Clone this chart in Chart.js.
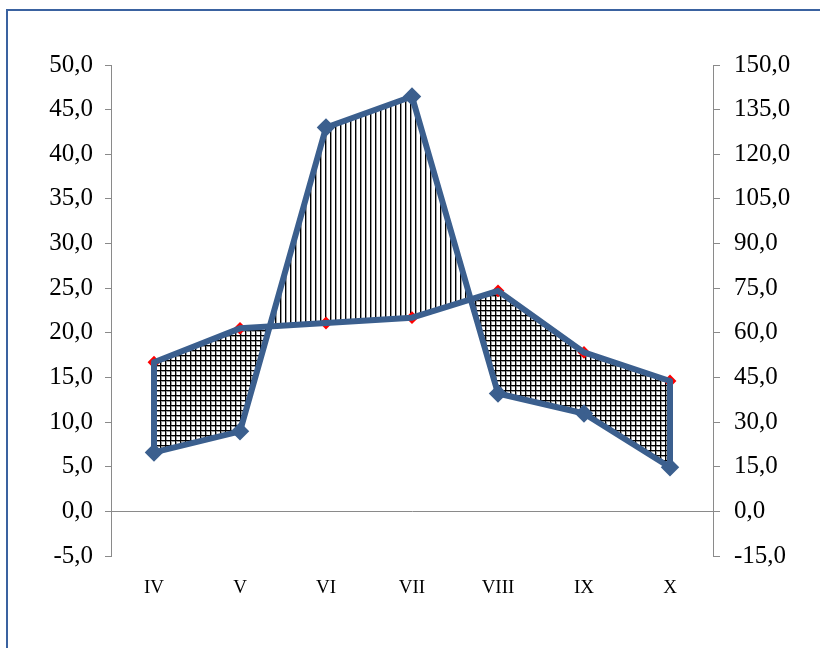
<!DOCTYPE html>
<html>
<head>
<meta charset="utf-8">
<script src="https://cdn.jsdelivr.net/npm/chart.js@4/dist/chart.umd.min.js"></script>
<style>
    html, body { margin: 0; padding: 0; background: #fff; overflow: hidden; }
    #frame {
        position: absolute; left: 6px; top: 9px; width: 900px; height: 700px;
        border-left: 2px solid #3a62a0; border-top: 2px solid #3a62a0;
    }
    #wrap { position: absolute; left: 0; top: 0; width: 820px; height: 648px; }
</style>
</head>
<body>
<div id="frame"></div>
<div id="wrap"><canvas id="climate" width="820" height="648"></canvas></div>
<script>
const months = ['IV', 'V', 'VI', 'VII', 'VIII', 'IX', 'X'];
const temperature = [16.7, 20.5, 21.1, 21.7, 24.7, 17.8, 14.6];
const precipitation = [19.8, 26.9, 129.0, 139.4, 39.6, 32.9, 14.8];
const leftTicks = { min: -5, max: 50, step: 5 };
const rightTicks = { min: -15, max: 150, step: 15 };

const canvas = document.getElementById('climate');
const ctx = canvas.getContext('2d');

function makePattern(kind) {
    const size = 5;
    const tile = document.createElement('canvas');
    tile.width = size;
    tile.height = size;
    const t = tile.getContext('2d');
    t.fillStyle = '#ffffff';
    t.fillRect(0, 0, size, size);
    t.fillStyle = '#9a9a9a';
    t.fillRect(1, 0, 1, size);
    if (kind === 'grid') t.fillRect(0, 1, size, 1);
    t.fillStyle = '#000000';
    t.fillRect(0, 0, 1, size);
    if (kind === 'grid') t.fillRect(0, 0, size, 1);
    return ctx.createPattern(tile, 'repeat');
}

const fmt = v => Number(v).toFixed(1).replace('.', ',');
const axisGray = '#8a8a8a';
const blue = '#3b5f8e';

// closes the outline at the first and last month, like the area border in the original
const closeOutline = {
    id: 'closeOutline',
    afterDatasetsDraw(chart) {
        const a = chart.getDatasetMeta(0).data;
        const b = chart.getDatasetMeta(1).data;
        const c = chart.ctx;
        c.save();
        c.strokeStyle = blue;
        c.lineWidth = 6;
        c.lineCap = 'round';
        [0, a.length - 1].forEach(i => {
            c.beginPath();
            c.moveTo(a[i].x, a[i].y);
            c.lineTo(b[i].x, b[i].y);
            c.stroke();
        });
        c.restore();
    },
};

new Chart(canvas, {
    type: 'line',
    data: {
        labels: months,
        datasets: [
            {
                label: 'Осадки',
                data: precipitation,
                yAxisID: 'y1',
                borderColor: blue,
                backgroundColor: blue,
                borderWidth: 6,
                borderJoinStyle: 'round',
                pointStyle: 'rectRot',
                pointRadius: 5,
                pointBackgroundColor: blue,
                pointBorderColor: blue,
                tension: 0,
                order: 0,
                fill: { target: 1, above: makePattern('vert'), below: makePattern('grid') },
            },
            {
                label: 'Температура (контур)',
                data: temperature,
                yAxisID: 'y',
                borderColor: blue,
                borderWidth: 6,
                borderJoinStyle: 'round',
                pointRadius: 0,
                tension: 0,
                order: 1,
                fill: false,
            },
            {
                label: 'Температура',
                data: temperature,
                yAxisID: 'y',
                borderColor: '#ff0000',
                backgroundColor: '#ff0000',
                borderWidth: 2,
                pointStyle: 'rectRot',
                pointRadius: 5,
                pointBackgroundColor: '#ff0000',
                pointBorderColor: '#ff0000',
                tension: 0,
                order: 2,
                fill: false,
            },
        ],
    },
    options: {
        responsive: false,
        animation: false,
        layout: { padding: { top: 65, left: 0, right: 0, bottom: 0 } },
        plugins: {
            legend: { display: false },
            tooltip: { enabled: false },
            filler: { drawTime: 'beforeDatasetsDraw' },
        },
        scales: {
            x: {
                offset: true,
                grid: { display: false },
                border: { display: false },
                ticks: {
                    color: '#000',
                    padding: 13,
                    font: { family: 'Liberation Serif', size: 19 },
                },
                afterFit: s => { s.height = 92; },
            },
            y: {
                position: 'left',
                min: leftTicks.min,
                max: leftTicks.max,
                border: { display: true, color: axisGray, width: 1 },
                grid: {
                    color: c => (c.tick && c.tick.value === 0 ? axisGray : 'rgba(0,0,0,0)'),
                    tickColor: axisGray,
                    tickLength: 6,
                    lineWidth: 1,
                },
                ticks: {
                    stepSize: leftTicks.step,
                    color: '#000',
                    padding: 12,
                    font: { family: 'Liberation Serif', size: 25 },
                    callback: v => fmt(v),
                },
                afterFit: s => { s.width = 111; },
            },
            y1: {
                position: 'right',
                min: rightTicks.min,
                max: rightTicks.max,
                border: { display: true, color: axisGray, width: 1 },
                grid: {
                    drawOnChartArea: false,
                    tickColor: axisGray,
                    tickLength: 7,
                },
                ticks: {
                    stepSize: rightTicks.step,
                    color: '#000',
                    padding: 14,
                    font: { family: 'Liberation Serif', size: 25 },
                    callback: v => fmt(v),
                },
                afterFit: s => { s.width = 107; },
            },
        },
    },
    plugins: [closeOutline],
});
</script>
</body>
</html>
